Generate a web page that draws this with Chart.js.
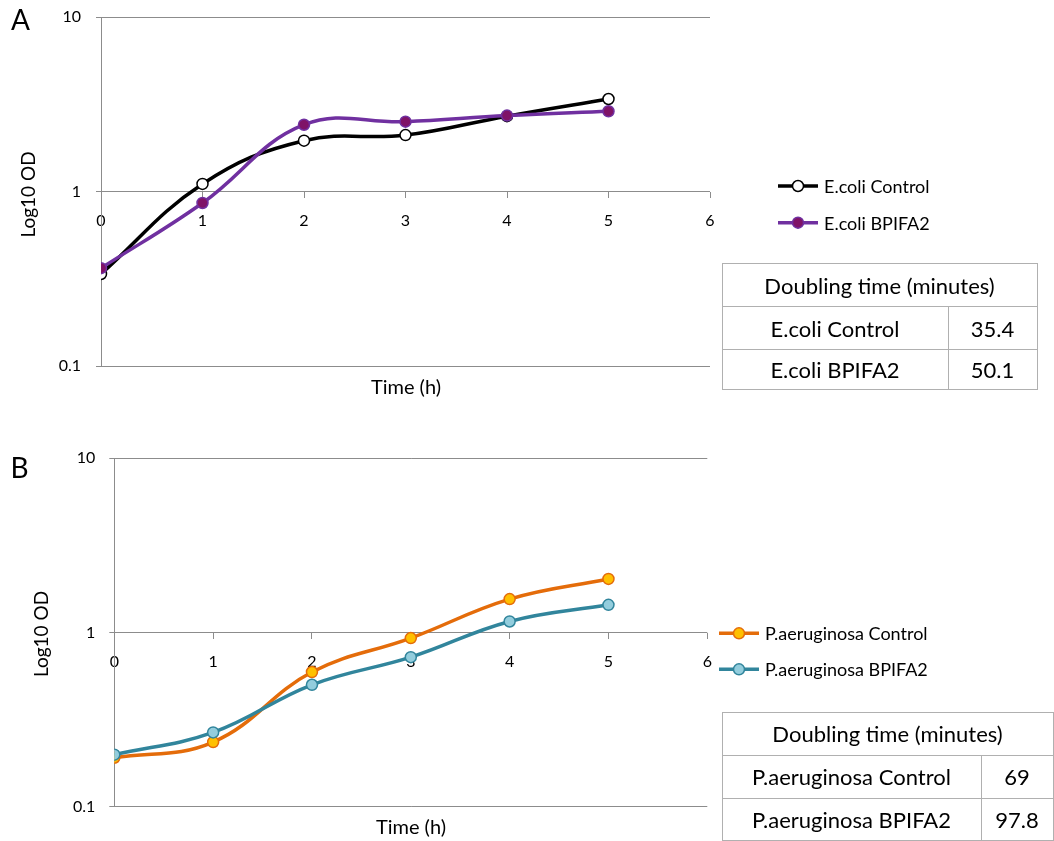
<!DOCTYPE html>
<html><head><meta charset="utf-8">
<script src="https://cdn.jsdelivr.net/npm/chart.js@4.4.1/dist/chart.umd.min.js"></script>
<style>
html,body{margin:0;padding:0;background:#fff;width:1054px;height:841px;overflow:hidden;font-family:Lato,sans-serif;}
canvas{position:absolute;left:0;}
#cA{top:0;}
#cB{top:440px;}
#ov{position:absolute;left:0;top:0;pointer-events:none;}
table{position:absolute;border-collapse:collapse;font-family:Lato,sans-serif;font-size:22px;color:#000;table-layout:fixed;}
td{border:1px solid #b0b0b0;text-align:center;vertical-align:middle;padding:0;white-space:nowrap;}
</style></head>
<body>
<canvas id="cA" width="720" height="400"></canvas>
<canvas id="cB" width="720" height="400"></canvas>
<svg id="ov" width="1054" height="841" xmlns="http://www.w3.org/2000/svg"></svg>
<table id="tA" style="left:721.5px;top:263px;width:315px;">
  <colgroup><col style="width:226px"><col style="width:89px"></colgroup>
  <tr style="height:43px"><td colspan="2" class="hd"></td></tr>
  <tr style="height:43px"><td class="n0"></td><td class="v0"></td></tr>
  <tr style="height:40px"><td class="n1"></td><td class="v1"></td></tr>
</table>
<table id="tB" style="left:721.5px;top:711.5px;width:331px;">
  <colgroup><col style="width:259px"><col style="width:72px"></colgroup>
  <tr style="height:43px"><td colspan="2" class="hd"></td></tr>
  <tr style="height:43px"><td class="n0"></td><td class="v0"></td></tr>
  <tr style="height:42px"><td class="n1"></td><td class="v1"></td></tr>
</table>
<script>
// ---- data ----
const hours = [0, 1, 2, 3, 4, 5];
const xTickValues = [0, 1, 2, 3, 4, 5, 6];
const yTickValues = [0.1, 1, 10];

const ecoliControl = [0.337, 1.107, 1.96, 2.11, 2.71, 3.40];
const ecoliBPIFA2  = [0.364, 0.861, 2.42, 2.52, 2.73, 2.89];
const paeControl   = [0.191, 0.235, 0.593, 0.929, 1.555, 2.03];
const paeBPIFA2    = [0.199, 0.267, 0.501, 0.722, 1.157, 1.442];

const seriesNamesA = ['E.coli Control', 'E.coli BPIFA2'];
const seriesNamesB = ['P.aeruginosa Control', 'P.aeruginosa BPIFA2'];
const tableTitle = 'Doubling time (minutes)';
const doublingTimesA = ['35.4', '50.1'];
const doublingTimesB = ['69', '97.8'];

const yTitle = 'Log10 OD';
const xTitle = 'Time (h)';

// ---- styles ----
const styleA = [
  {line: '#000000', fill: '#ffffff', border: '#000000', order: 1},
  {line: '#7030A0', fill: '#7F1367', border: '#7030A0', order: 0}
];
const styleB = [
  {line: '#E46C0A', fill: '#FFC000', border: '#E46C0A', order: 1},
  {line: '#31859C', fill: '#93CDDD', border: '#31859C', order: 0}
];
const axisGrey = '#8c8c8c';

function makeDatasets(seriesList, names, styles) {
  return seriesList.map((vals, k) => ({
    label: names[k],
    data: hours.map((h, i) => ({x: h, y: vals[i]})),
    borderColor: styles[k].line,
    borderWidth: 3.5,
    pointBackgroundColor: styles[k].fill,
    pointBorderColor: styles[k].border,
    pointBorderWidth: 1.5,
    pointRadius: 5.5,
    tension: 0.4,
    fill: false,
    order: styles[k].order
  }));
}

function makeChart(id, datasets, pad, yWidth, yPad) {
  return new Chart(document.getElementById(id), {
    type: 'line',
    data: {datasets},
    options: {
      responsive: false,
      animation: false,
      events: [],
      devicePixelRatio: 1,
      layout: {padding: pad},
      plugins: {legend: {display: false}, tooltip: {enabled: false}},
      scales: {
        x: {
          type: 'linear',
          min: 0, max: 6,
          position: {y: 1},
          z: 1,
          afterBuildTicks: s => { s.ticks = xTickValues.map(v => ({value: v})); },
          afterFit: s => { s.height = 0; s.paddingLeft = 0; s.paddingRight = 0; s.paddingTop = 0; s.paddingBottom = 0; },
          ticks: {font: {family: 'Lato', size: 16}, color: '#000', padding: 14, callback: v => String(v)},
          grid: {drawOnChartArea: false, drawTicks: true, tickLength: 6, color: axisGrey, lineWidth: 1},
          border: {display: false}
        },
        y: {
          type: 'logarithmic',
          min: 0.1, max: 10,
          afterBuildTicks: s => { s.ticks = yTickValues.map(v => ({value: v})); },
          afterFit: s => { s.width = yWidth; s.paddingTop = 0; s.paddingBottom = 0; s.paddingLeft = 0; s.paddingRight = 0; },
          ticks: {font: {family: 'Lato', size: 16}, color: '#000', padding: yPad, callback: v => String(v)},
          grid: {drawTicks: true, tickLength: 5, color: axisGrey, lineWidth: 1},
          border: {display: true, color: axisGrey, width: 1}
        }
      }
    }
  });
}

makeChart('cA', makeDatasets([ecoliControl, ecoliBPIFA2], seriesNamesA, styleA),
  {left: 0, right: 10, top: 17.3, bottom: 34}, 101, 15);
makeChart('cB', makeDatasets([paeControl, paeBPIFA2], seriesNamesB, styleB),
  {left: 0, right: 12.7, top: 18.3, bottom: 33.3}, 114.3, 14);

// ---- overlay text & legends ----
const NS = 'http://www.w3.org/2000/svg';
const ov = document.getElementById('ov');
function el(tag, attrs, text) {
  const e = document.createElementNS(NS, tag);
  for (const k in attrs) e.setAttribute(k, attrs[k]);
  if (text !== undefined) e.textContent = text;
  ov.appendChild(e);
  return e;
}
const fam = 'Lato, sans-serif';
el('text', {x: 11, y: 29.5, 'font-family': fam, 'font-size': 28}, 'A');
el('text', {x: 10.5, y: 478, 'font-family': fam, 'font-size': 28}, 'B');
el('text', {transform: 'translate(35,194.5) rotate(-90)', 'text-anchor': 'middle', 'font-family': fam, 'font-size': 19}, yTitle);
el('text', {transform: 'translate(48.3,634) rotate(-90)', 'text-anchor': 'middle', 'font-family': fam, 'font-size': 19}, yTitle);
el('text', {x: 406, y: 393.5, 'text-anchor': 'middle', 'font-family': fam, 'font-size': 20}, xTitle);
el('text', {x: 411, y: 834, 'text-anchor': 'middle', 'font-family': fam, 'font-size': 20}, xTitle);

function legend(names, styles, x0, ys, textDy) {
  names.forEach((n, k) => {
    const y = ys[k];
    el('line', {x1: x0, y1: y, x2: x0 + 40, y2: y, stroke: styles[k].line, 'stroke-width': 3.5});
    el('circle', {cx: x0 + 20, cy: y, r: 5.5, fill: styles[k].fill, stroke: styles[k].border, 'stroke-width': 1.5});
    el('text', {x: x0 + 46, y: y + textDy, 'font-family': fam, 'font-size': 18}, n);
  });
}
legend(seriesNamesA, styleA, 778, [186, 222.7], 7.3);
legend(seriesNamesB, styleB, 719, [633.3, 669.3], 6.7);

// ---- tables ----
function fillTable(id, names, vals) {
  const t = document.getElementById(id);
  t.querySelector('.hd').textContent = tableTitle;
  names.forEach((n, k) => {
    t.querySelector('.n' + k).textContent = n;
    t.querySelector('.v' + k).textContent = vals[k];
  });
}
fillTable('tA', seriesNamesA, doublingTimesA);
fillTable('tB', seriesNamesB, doublingTimesB);
</script>
</body></html>
